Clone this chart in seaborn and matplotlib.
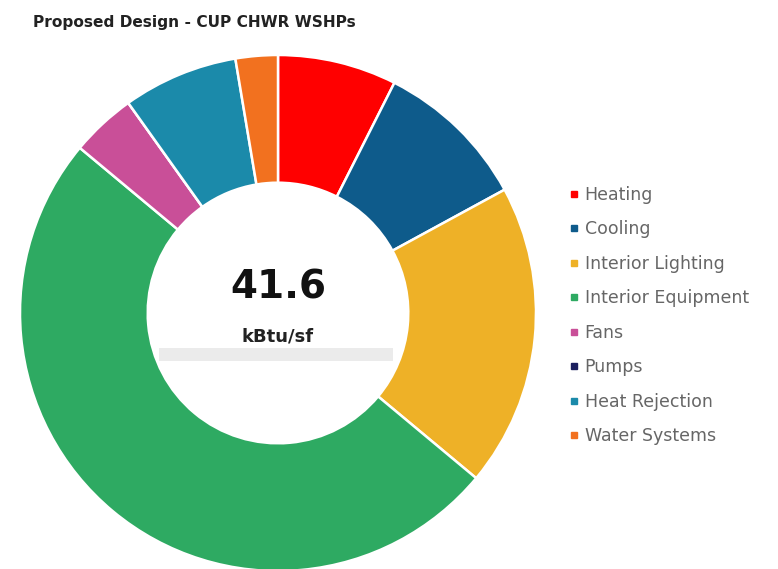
import matplotlib
matplotlib.use("Agg")
import matplotlib.pyplot as plt
from matplotlib.patches import Rectangle
from matplotlib.lines import Line2D
import seaborn as sns

# ─────────────────────────────────────────────
#  Data (kBtu/sf by end use)
# ─────────────────────────────────────────────
end_uses = ["Heating", "Cooling", "Interior Lighting", "Interior Equipment",
            "Fans", "Pumps", "Heat Rejection", "Water Systems"]
eui_values = [3.1, 4.0, 7.9, 20.8, 1.7, 0.0, 3.0, 1.1]
colors = ["#FF0000", "#0E5B8B", "#EEB127", "#2EAA62",
          "#C94F98", "#1B1F5E", "#1B8AAA", "#F2711F"]
total_eui = "41.6"
units = "kBtu/sf"
title = "Proposed Design - CUP CHWR WSHPs"

sns.set_theme(style="white")
plt.rcParams["font.family"] = ["DejaVu Sans"]
palette = sns.color_palette(colors)

W, H = 778, 569
fig = plt.figure(figsize=(W / 100, H / 100), dpi=100)
fig.patch.set_facecolor("white")

# donut: centre (278, 313) px, radius 258 px
cx, cy, r = 278, 313, 258
ax = fig.add_axes([(cx - r) / W, (H - cy - r) / H, 2 * r / W, 2 * r / H])
ax.pie(eui_values, colors=palette, startangle=90, counterclock=False,
       radius=1.0, wedgeprops=dict(width=0.495, edgecolor="white", linewidth=1.8))
ax.set_xlim(-1, 1)
ax.set_ylim(-1, 1)
ax.set_aspect("equal")
ax.axis("off")

# faint scan band under the unit label
ax.add_patch(Rectangle((-0.46, -0.187), 0.905, 0.05, facecolor="#EBEBEB",
                       edgecolor="none", zorder=3))

ax.text(0, 0.10, total_eui, ha="center", va="center", fontsize=28,
        fontweight="bold", color="#111111", zorder=4)
ax.text(0, -0.09, units, ha="center", va="center", fontsize=13,
        fontweight="bold", color="#222222", zorder=4)

fig.text(33 / W, 1 - 23 / H, title, ha="left", va="center", fontsize=11.1,
         fontweight="bold", color="#222222")

handles = [Line2D([0], [0], marker="s", linestyle="none", markersize=4.5,
                  markerfacecolor=c, markeredgecolor=c) for c in palette]
fig.legend(handles, end_uses, loc="upper left",
           bbox_to_anchor=(562 / W, 1 - 179 / H), frameon=False,
           fontsize=12.5, labelcolor="#666666", handlelength=0.6,
           handletextpad=0.3, labelspacing=0.95, borderaxespad=0)

fig.savefig("out.png", dpi=100, facecolor="white")
